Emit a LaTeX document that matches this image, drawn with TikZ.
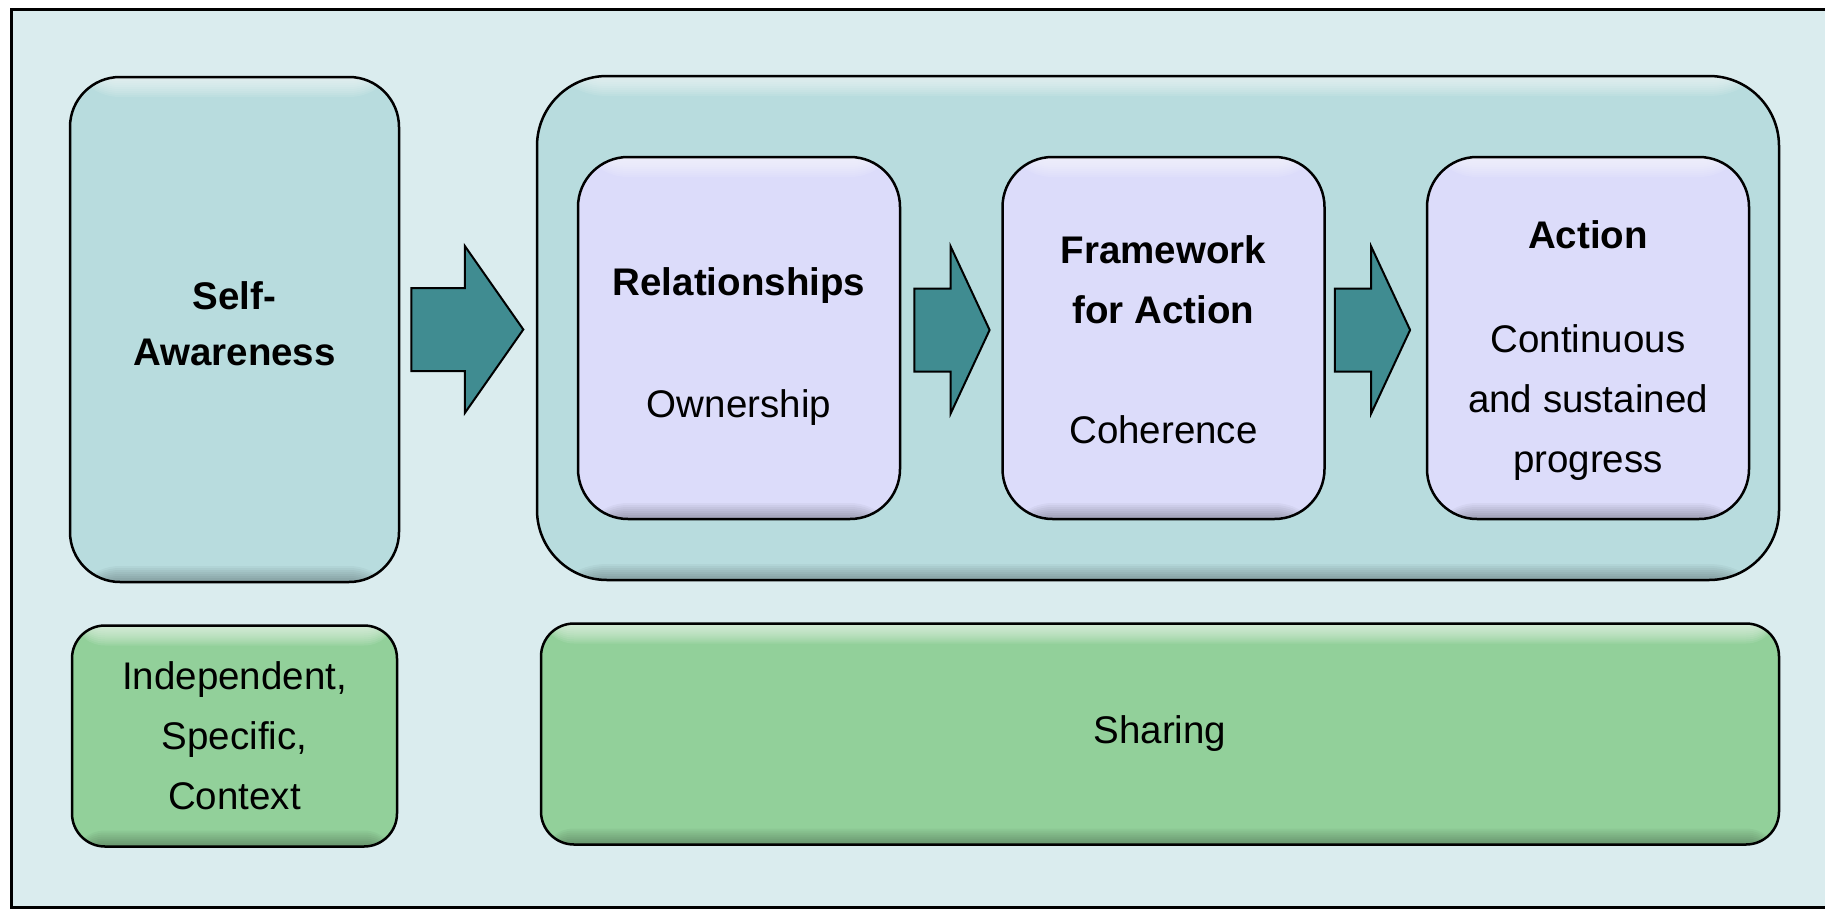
\documentclass[tikz,border=0pt]{standalone}
\usepackage{fontspec}
\setmainfont{Liberation Sans}
\usetikzlibrary{positioning,shapes.arrows}

\definecolor{bgcyan}{HTML}{DAECEE}
\definecolor{boxteal}{HTML}{B8DCDE}
\definecolor{boxlav}{HTML}{DCDCFA}
\definecolor{boxgreen}{HTML}{92D09A}
\definecolor{arrowteal}{HTML}{408C91}

\begin{document}
\begin{tikzpicture}[x=1pt,y=-1pt,node distance=100pt,
    bevel/.style={path picture={
        \foreach \k in {2,4,...,20}
            \fill[white,opacity=.09] (path picture bounding box.north west)
                rectangle ([yshift=-\k pt]path picture bounding box.north east);
        \foreach \k in {2,4,...,16}
            \fill[black,opacity=.035] ([yshift=\k pt]path picture bounding box.south west)
                rectangle (path picture bounding box.south east);}},
    box/.style={draw=black,line width=2.5pt,rounded corners=50pt,align=center,bevel,
                inner sep=0pt,font=\fontsize{38.5}{60}\selectfont},
    teal box/.style={box,fill=boxteal},
    step box/.style={box,fill=boxlav,minimum width=322pt,minimum height=362pt},
    base box/.style={box,fill=boxgreen,rounded corners=33pt,minimum height=221pt},
    label text/.style={align=center,inner sep=0pt,font=\fontsize{38.5}{60}\selectfont},
    flow arrow/.style={single arrow,draw=black,line width=2pt,fill=arrowteal,anchor=tail,
                inner sep=0pt,single arrow head extend=42pt}]
    \useasboundingbox (0,0) rectangle (1825,910);
    \fill[white] (0,0) rectangle (1825,910);
    \draw[fill=bgcyan,line width=3pt] (11,9) rectangle (1845,907);

    \node[teal box,minimum width=329pt,minimum height=505pt] (self) at (234.5,329.5) {};
    \node[teal box,rounded corners=70pt,minimum width=1242pt,minimum height=504pt] (big) at (1158,328) {};

    \node[step box] (rel) at (739,338) {};
    \node[step box,right=100pt of rel] (frame) {};
    \node[step box,right=100pt of frame] (act) {};

    \node[base box,minimum width=325pt] (ctx) at (234.5,736) {Independent,\\Specific,\\Context};
    \node[base box,minimum width=1238pt] (share) at (1160,734) {Sharing};

    % texts of the upper boxes
    \node[label text,font=\fontsize{38.5}{56}\selectfont,yshift=6pt] (selftext) at (self)
        {\textbf{Self-}\\\textbf{Awareness}};
    \node[label text,yshift=-9pt] (reltext) at (rel) {\textbf{Relationships}\\[62pt]Ownership};
    \node[label text,yshift=-2pt] (frametext) at (frame) {\textbf{Framework}\\\textbf{for Action}\\[60pt]Coherence};
    \node[label text,yshift=-13pt] (acttext) at (act) {\textbf{Action}\\[44pt]Continuous\\and sustained\\progress};

    % arrows between the stages
    \node[flow arrow,single arrow tip angle=110,xshift=10pt] (a1) at (self.east)
        {\hspace*{81pt}\rule{0pt}{81pt}};
    \node[flow arrow,single arrow tip angle=130,xshift=12pt,yshift=8pt] (a2) at (rel.east)
        {\hspace*{54pt}\rule{0pt}{81pt}};
    \node[flow arrow,single arrow tip angle=130,xshift=8pt,yshift=8pt] (a3) at (frame.east)
        {\hspace*{54pt}\rule{0pt}{81pt}};
\end{tikzpicture}
\end{document}
